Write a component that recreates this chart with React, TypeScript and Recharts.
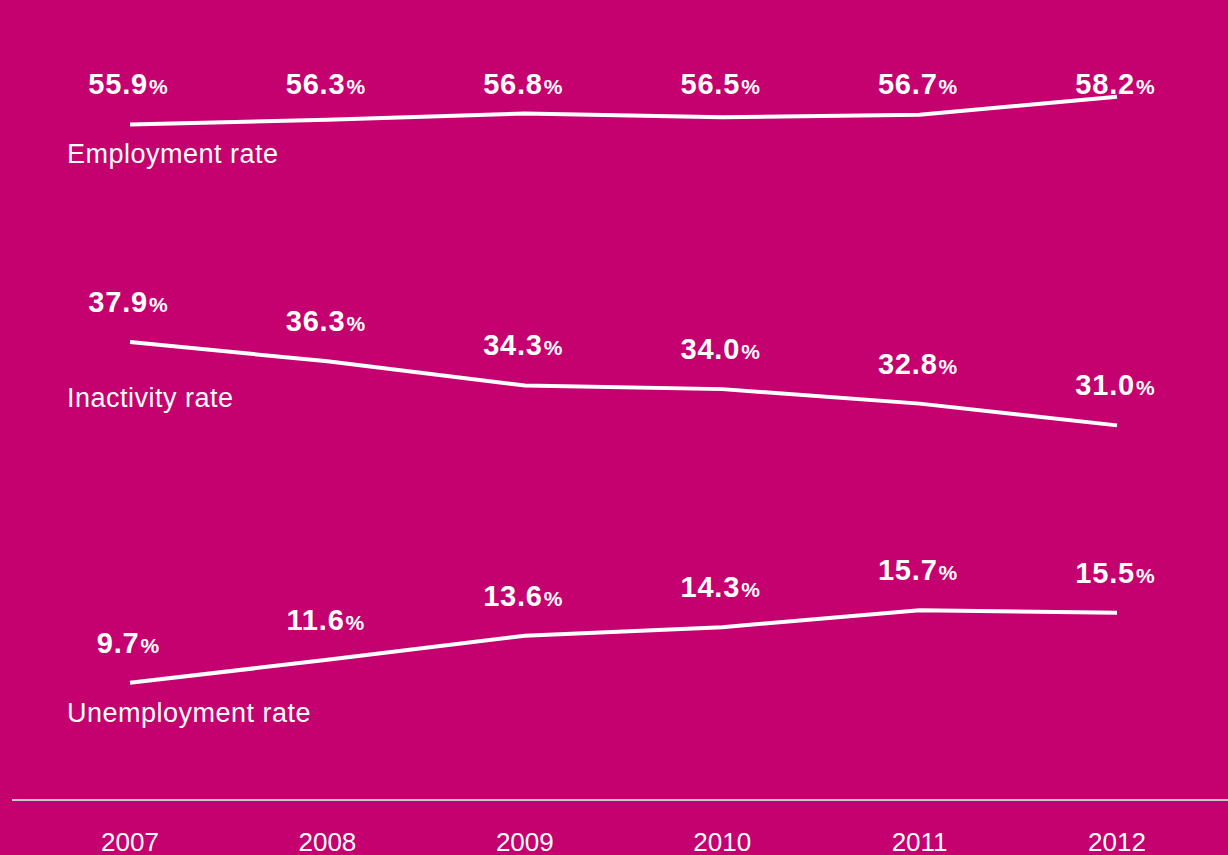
import { LineChart, Line, XAxis, YAxis, LabelList } from "recharts";

const years = ["2007", "2008", "2009", "2010", "2011", "2012"];
const employment = [55.9, 56.3, 56.8, 56.5, 56.7, 58.2];
const inactivity = [37.9, 36.3, 34.3, 34.0, 32.8, 31.0];
const unemployment = [9.7, 11.6, 13.6, 14.3, 15.7, 15.5];

const seriesNames = ["Employment rate", "Inactivity rate", "Unemployment rate"];

const data = years.map((year, i) => ({
  year,
  employment: employment[i],
  inactivity: inactivity[i],
  unemployment: unemployment[i],
}));

const FONT = "'Liberation Sans', Arial, Helvetica, sans-serif";
const BG = "#c5006f";

// value label: bold number with a smaller percent sign
const valueLabel = (fixedY?: number) => (props: any) => {
  const { x, y, value } = props;
  const ty = fixedY ?? y - 30;
  return (
    <text
      x={x - 2}
      y={ty}
      textAnchor="middle"
      fill="#fff"
      fontFamily={FONT}
      fontWeight="bold"
    >
      <tspan fontSize={29} letterSpacing={0.8}>
        {Number(value).toFixed(1)}
      </tspan>
      <tspan fontSize={21} dx={1}>
        %
      </tspan>
    </text>
  );
};

const nameLabel = (name: string, dy: number) => (props: any) => {
  const { x, y, index } = props;
  if (index !== 0) return null;
  return (
    <text
      x={x - 63}
      y={y + dy}
      fill="#fff"
      fontFamily={FONT}
      fontSize={27}
      letterSpacing={0.5}
    >
      {name}
    </text>
  );
};

const YearTick = (props: any) => {
  const { x, y, payload } = props;
  return (
    <text
      x={x}
      y={y + 43}
      textAnchor="middle"
      fill="#fff"
      fontFamily={FONT}
      fontSize={26}
      fontWeight={300}
    >
      {payload.value}
    </text>
  );
};

export default function App() {
  return (
    <div
      style={{
        position: "absolute",
        left: 0,
        top: 0,
        width: 1228,
        height: 855,
        background: BG,
        overflow: "hidden",
      }}
    >
      <LineChart
        width={1228}
        height={855}
        data={data}
        margin={{ top: 0, right: 0, left: 12, bottom: 0 }}
      >
        <XAxis
          dataKey="year"
          height={55}
          padding={{ left: 118, right: 111 }}
          axisLine={{ stroke: "#c9c9c9", strokeWidth: 2 }}
          tickLine={false}
          tick={<YearTick />}
          interval={0}
        />
        <YAxis hide domain={[0, 66.2]} />
        <Line
          dataKey="employment"
          stroke="#fff"
          strokeWidth={4}
          dot={false}
          isAnimationActive={false}
        >
          <LabelList dataKey="employment" content={valueLabel(94)} />
          <LabelList dataKey="employment" content={nameLabel(seriesNames[0], 39)} />
        </Line>
        <Line
          dataKey="inactivity"
          stroke="#fff"
          strokeWidth={4}
          dot={false}
          isAnimationActive={false}
        >
          <LabelList dataKey="inactivity" content={valueLabel()} />
          <LabelList dataKey="inactivity" content={nameLabel(seriesNames[1], 65)} />
        </Line>
        <Line
          dataKey="unemployment"
          stroke="#fff"
          strokeWidth={4}
          dot={false}
          isAnimationActive={false}
        >
          <LabelList dataKey="unemployment" content={valueLabel()} />
          <LabelList dataKey="unemployment" content={nameLabel(seriesNames[2], 39)} />
        </Line>
      </LineChart>
    </div>
  );
}
